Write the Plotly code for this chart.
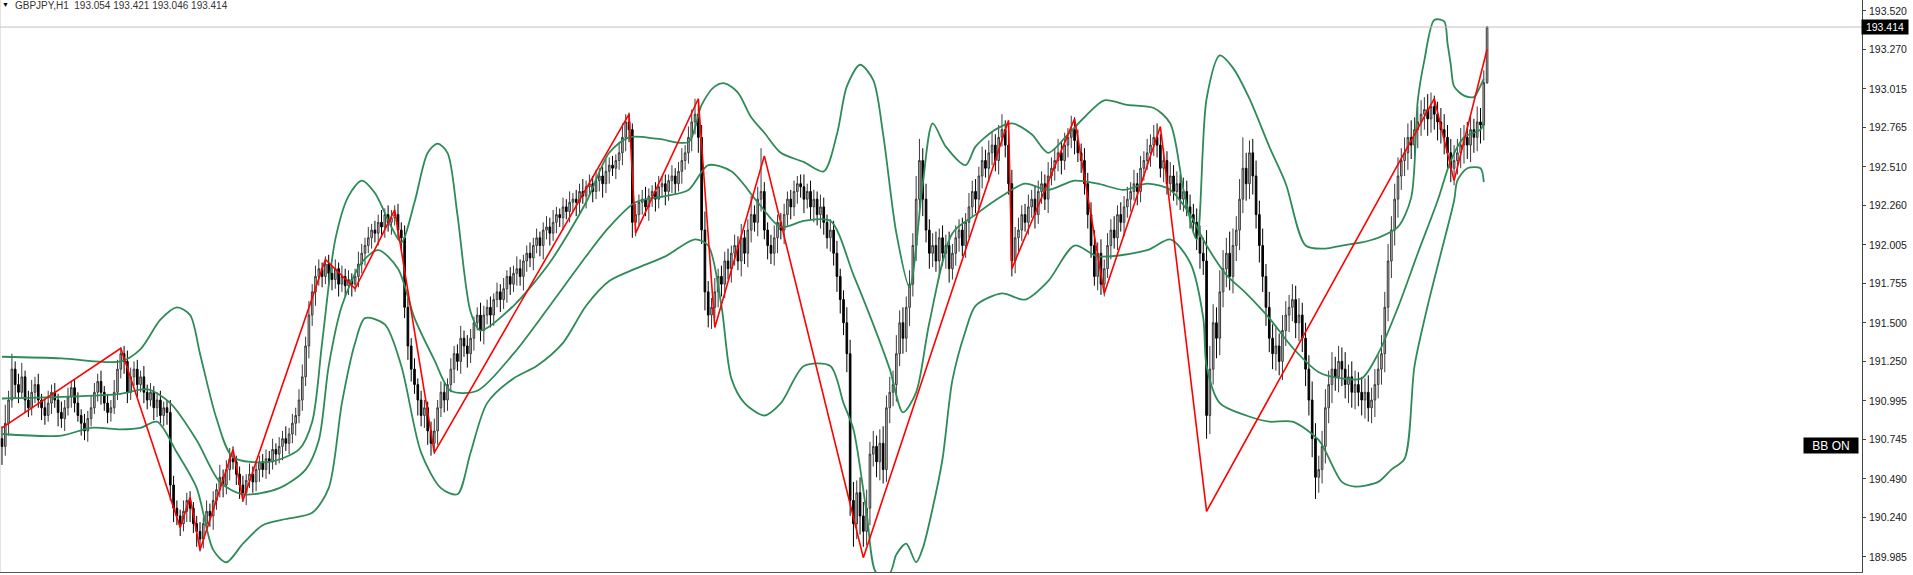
import plotly.graph_objects as go

# ---------------- data ----------------
first_open = 190.75
closes = [
 190.70,190.85,191.00,191.20,191.10,191.05,191.15,191.00,190.95,191.05,
 191.10,191.00,190.95,190.90,190.98,191.05,191.00,190.92,190.88,190.95,
 191.02,191.08,190.98,190.90,190.85,190.80,190.88,190.95,191.05,191.12,
 191.05,190.98,190.92,190.95,191.05,191.20,191.30,
 191.25,191.05,191.15,191.20,191.10,191.15,191.05,191.00,191.05,190.95,191.00,190.90,190.95,190.92,
 190.45,
 190.30,190.25,190.20,190.28,190.35,190.30,190.20,190.15,
 190.10,190.20,190.28,190.25,190.35,190.42,190.50,190.45,190.55,190.62,
 190.60,190.52,190.45,190.40,190.48,190.52,190.47,190.55,190.60,190.55,
 190.62,190.60,190.68,190.65,190.70,190.75,190.72,190.78,190.85,190.90,
 191.00,191.15,191.35,191.55,191.70,191.80,191.85,191.80,191.88,191.82,
 191.78,191.85,191.75,191.80,191.74,191.78,191.75,191.80,191.88,191.95,
 192.00,192.05,192.10,192.08,192.15,192.12,192.20,192.15,192.18,192.20,
 192.10,192.05,191.60,191.35,191.20,191.10,191.00,190.90,190.95,190.80,
 190.72,190.80,190.95,191.05,191.00,191.10,191.20,191.30,191.25,191.40,
 191.35,191.30,191.40,191.50,191.55,191.45,191.55,191.60,191.55,191.65,
 191.70,191.65,191.72,191.80,191.75,191.82,191.85,191.80,191.90,191.95,
 191.92,192.00,192.05,192.00,192.10,192.12,192.08,192.15,192.20,192.18,
 192.25,192.22,192.28,192.30,192.28,192.35,192.32,192.38,192.40,192.35,
 192.42,192.45,192.40,192.48,192.52,192.50,192.55,192.60,192.70,192.80,
 192.75,192.15,192.20,192.28,192.30,192.25,192.32,192.35,192.30,192.38,
 192.40,192.35,192.42,192.45,192.40,192.48,192.55,192.60,192.70,192.80,
 192.85,192.70,192.10,191.70,191.55,191.60,191.70,191.80,191.75,191.90,
 191.85,191.95,192.00,191.90,192.05,191.95,192.10,192.20,192.15,192.30,
 192.35,192.10,192.00,191.95,192.05,192.15,192.10,192.20,192.30,192.25,
 192.35,192.40,192.38,192.30,192.35,192.25,192.30,192.20,192.25,192.15,
 192.05,192.10,191.95,191.80,191.65,191.50,191.30,190.35,190.20,190.40,
 190.25,190.15,190.30,190.65,190.70,190.60,190.72,190.55,190.95,191.05,
 191.10,191.30,191.50,191.40,191.60,191.75,192.00,192.30,192.55,192.30,
 192.10,191.95,192.00,191.90,192.05,191.95,192.00,191.85,191.95,192.05,
 192.10,192.00,192.15,192.25,192.35,192.30,192.45,192.55,192.50,192.60,
 192.65,192.55,192.70,192.75,192.65,192.40,191.90,192.05,192.10,192.20,
 192.15,192.25,192.30,192.20,192.35,192.40,192.30,192.45,192.50,192.55,
 192.60,192.55,192.65,192.70,192.75,192.68,192.60,192.55,192.40,192.20,
 192.00,191.80,191.95,191.75,191.85,192.00,192.10,192.05,192.20,192.15,
 192.25,192.30,192.35,192.40,192.35,192.50,192.55,192.60,192.65,192.70,
 192.65,192.50,192.55,192.40,192.45,192.35,192.40,192.30,192.35,192.25,
 192.20,192.15,192.05,191.95,191.90,190.90,191.20,191.50,191.40,191.70,
 191.85,191.95,191.80,192.00,192.10,192.30,192.50,192.40,192.60,192.45,
 192.20,192.00,191.80,191.60,191.40,191.30,191.35,191.25,191.45,191.55,
 191.60,191.65,191.50,191.55,191.40,191.20,191.00,190.75,190.50,190.55,
 190.70,190.95,191.10,191.20,191.15,191.25,191.20,191.10,191.15,191.05,
 191.10,191.05,191.00,191.05,190.95,191.00,191.10,191.20,191.30,191.60,
 191.90,192.10,192.30,192.45,192.55,192.60,192.70,192.65,192.75,192.80,
 192.85,192.88,192.82,192.90,192.85,192.80,192.75,192.70,192.60,192.50,
 192.55,192.60,192.65,192.70,192.65,192.75,192.70,192.80,192.78,193.054,193.414,
]
# upper / lower wick lengths in pips (0.01)
up_wick = [
 8,12,6,10,5,7,9,4,6,8, 5,7,4,6,8,5,6,4,7,5, 6,4,5,7,4,6,5,8,6,5, 7,4,6,5,8,6,4,5,7,6,
 5,6,4,7,5,6,4,5,6,4, 5,8,6,5,4,7,5,6,4,5, 6,4,7,5,6,4,8,5,6,7, 8,4,5,6,4,7,5,6,4,5,
 6,5,7,4,6,5,8,4,6,5, 7,8,6,9,5,7,6,4,5,6, 5,6,4,7,5,6,4,5,8,6, 5,7,4,6,5,8,4,6,5,6,
 7,5,8,6,5,7,4,6,5,4, 6,8,5,7,6,4,7,5,6,8, 5,7,6,4,5,8,6,5,7,4, 6,5,7,4,6,5,8,6,4,5,
 7,5,6,4,5,7,6,8,5,4, 6,5,7,4,6,5,8,4,6,5, 7,5,6,8,5,6,4,7,9,5, 6,4,7,5,6,8,5,4,6,7,
 5,6,4,7,5,6,8,5,7,8, 10,6,8,12,7,6,9,5,7,6, 8,5,7,6,9,5,7,12,6,8, 28,6,5,7,8,5,6,7,5,6,
 7,5,6,8,5,7,6,5,8,6, 5,7,6,8,5,6,10,9,12,8, 10,9,12,8,10,7,9,11,8,10, 9,12,8,10,7,9,8,15,14,8,
 10,7,8,9,6,8,7,9,6,8, 7,8,6,9,7,8,6,9,7,8, 9,7,8,10,6,8,9,7,8,6, 7,8,6,9,7,8,6,9,7,8,
 9,7,8,6,9,8,7,6,8,7, 8,10,7,9,6,8,7,9,6,8, 7,8,6,9,7,8,6,9,7,8, 9,7,8,6,9,7,8,6,9,7,
 8,7,9,8,10,20,15,12,10,14, 12,10,14,11,9,13,20,10,8,9, 10,9,11,8,10,9,12,8,10,9, 8,10,9,11,8,10,9,12,10,9,
 10,12,9,11,8,10,9,11,8,10, 9,8,10,9,11,8,10,9,12,10, 11,9,10,12,8,10,9,11,8,10, 9,8,10,9,7,8,9,10,8,9,
 10,9,11,8,10,9,7,10,9,8, 0.7,
]
low_wick = [
 12,6,8,5,9,7,4,8,6,5, 7,5,8,6,4,7,5,9,6,8, 5,7,6,4,8,6,7,5,4,6, 8,5,7,6,4,5,6,8,7,5,
 6,8,5,7,6,4,8,6,5,7, 8,10,9,6,8,5,7,9,6,10, 8,6,5,7,9,6,5,8,6,7, 5,7,9,6,8,5,7,6,8,5,
 6,8,5,7,6,9,5,7,6,8, 5,7,6,8,7,9,6,7,5,8, 7,6,8,5,7,6,8,5,7,6, 8,5,7,6,8,5,7,6,8,5,
 6,8,7,9,8,6,10,7,8,9, 8,7,9,6,8,7,5,9,6,8, 7,9,6,8,5,7,9,6,8,7, 5,8,6,9,7,5,8,6,9,7,
 6,8,5,7,9,6,8,5,7,6, 8,5,7,6,9,7,5,8,6,7, 5,7,9,6,8,5,7,6,8,9, 8,10,9,7,8,6,9,7,8,6,
 7,9,6,8,7,5,8,6,7,9, 8,10,9,12,8,9,7,10,8,9, 7,9,8,6,10,7,9,8,6,9, 8,6,9,7,8,10,6,9,7,8,
 6,8,7,9,6,8,10,7,9,8, 7,9,8,10,9,8,12,10,15,10, 12,10,9,11,8,10,12,9,8,10, 9,11,8,10,9,12,8,10,9,11,
 8,10,9,7,11,8,10,9,7,8, 9,7,8,10,6,9,7,8,6,9, 8,7,9,6,8,7,10,8,9,7, 6,8,7,9,6,8,7,9,6,8,
 7,9,6,8,7,9,6,8,7,9, 8,6,9,7,8,6,9,7,8,6, 9,7,8,6,9,7,8,6,9,7, 8,6,9,7,8,6,9,7,8,6,
 9,7,8,10,9,15,12,10,13,11, 10,12,9,11,10,13,9,11,10,12, 9,11,10,12,9,10,11,9,12,10, 11,9,10,12,9,11,10,12,14,10,
 9,11,10,12,9,10,11,9,12,10, 11,9,10,12,9,10,11,9,10,12, 9,11,10,12,9,10,11,9,10,12, 9,10,11,9,10,12,9,11,10,9,
 11,9,10,12,9,11,10,9,12,10, 0.8,
]

# Bollinger bands sampled along the chart: (bar index, price)
upper_x = [0,18,36,42,48,53,57,60,65,70,81,90,94,97,101,105,109,113,118,121,125,129,132,135,138,142,145,155,166,177,184,190,199,208,212,216,219,223,227,231,236,243,249,253,256,260,264,267,271,275,279,282,286,292,295,301,306,312,317,323,328,334,341,349,354,358,362,365,369,373,378,384,389,395,401,406,412,417,423,427,429,431,434,437,438,439,440,443,446,447,449]
upper_y = [191.28,191.27,191.25,191.33,191.52,191.60,191.55,191.30,190.88,190.63,190.60,190.68,190.86,191.37,192.04,192.32,192.42,192.34,192.12,192.02,192.28,192.60,192.66,192.60,192.20,191.57,191.45,191.61,191.89,192.28,192.60,192.70,192.69,192.67,192.91,193.03,193.05,192.99,192.83,192.73,192.60,192.54,192.48,192.72,193.03,193.17,193.07,192.72,192.08,191.73,192.40,192.79,192.64,192.52,192.64,192.75,192.79,192.72,192.60,192.72,192.83,192.94,192.91,192.89,192.79,192.36,192.04,192.95,193.23,193.15,192.95,192.64,192.40,192.00,191.98,192.00,192.02,192.05,192.12,192.31,192.94,193.20,193.46,193.45,193.31,193.17,193.03,192.97,192.96,192.99,193.08]
middle_x = [0,18,36,44,51,59,66,73,84,92,96,99,103,109,114,120,125,131,136,144,155,166,177,184,192,201,208,214,221,229,236,243,251,258,264,269,273,277,281,288,295,303,310,317,325,332,340,347,354,360,365,371,377,384,391,399,406,412,417,423,429,435,439,443,448,449]
middle_y = [191.01,191.02,191.04,191.07,190.98,190.74,190.47,190.39,190.43,190.55,190.74,191.22,191.61,191.89,191.97,191.85,191.53,191.26,191.06,191.06,191.30,191.61,191.93,192.12,192.28,192.32,192.36,192.52,192.48,192.28,192.12,192.16,192.16,191.81,191.49,191.20,190.92,191.05,191.50,192.08,192.20,192.32,192.40,192.36,192.42,192.40,192.36,192.40,192.36,192.20,192.00,191.81,191.69,191.53,191.34,191.18,191.14,191.14,191.30,191.60,191.95,192.29,192.55,192.70,192.75,192.80]
lower_x = [0,18,27,36,42,47,53,59,64,68,73,79,86,94,99,103,107,110,116,121,127,133,138,142,147,155,162,170,177,184,192,201,210,214,218,221,225,231,236,243,251,255,258,262,265,269,271,274,277,279,282,285,288,292,295,303,310,317,325,332,347,354,360,364,365,369,377,384,391,399,406,410,417,421,425,428,432,436,440,441,444,448,449]
lower_y = [190.78,190.77,190.82,190.81,190.82,190.86,190.66,190.43,190.03,189.95,190.07,190.19,190.23,190.27,190.43,190.98,191.37,191.53,191.49,191.22,190.66,190.43,190.39,190.66,190.98,191.14,191.22,191.37,191.61,191.77,191.85,191.93,192.04,192.00,191.61,191.14,190.98,190.90,190.98,191.22,191.22,190.98,190.81,190.27,189.88,189.88,190.00,190.07,189.95,190.04,190.30,190.62,191.13,191.45,191.61,191.69,191.65,191.77,192.00,191.93,191.97,192.04,191.89,191.53,191.22,190.98,190.90,190.86,190.86,190.74,190.47,190.44,190.47,190.55,190.62,191.22,191.61,191.95,192.29,192.42,192.50,192.50,192.41]

# ZigZag vertices: (bar index, price)
zz_x = [0,36,54,57,60,70,73,98,107,119,131,190,192,211,216,231,261,305,306,325,334,351,365,434,440,450]
zz_y = [190.82,191.335,190.175,190.37,190.03,190.68,190.35,191.91,191.72,192.23,190.66,192.85,192.08,192.95,191.47,192.58,189.98,192.81,191.85,192.82,191.69,192.77,190.28,192.95,192.42,193.27]

bid_price = 193.414
title_text = "GBPJPY,H1  193.054 193.421 193.046 193.414"
tick_vals = [193.520,193.270,193.015,192.765,192.510,192.260,192.005,191.755,191.500,191.250,190.995,190.745,190.490,190.240,189.985]
y_range = [189.887, 193.589]
x_range = [-0.6, 563.6]

# ---------------- build ----------------
n = len(closes)
bars = list(range(n))
opens = [first_open] + closes[:-1]
highs = [max(o, c) + w * 0.01 for o, c, w in zip(opens, closes, up_wick)]
lows = [min(o, c) - w * 0.01 for o, c, w in zip(opens, closes, low_wick)]

fig = go.Figure()
band_color = "#2e8b57"
for xs, ys in ((upper_x, upper_y), (middle_x, middle_y), (lower_x, lower_y)):
    fig.add_trace(go.Scatter(x=xs, y=ys, mode="lines",
                             line=dict(color=band_color, width=1.8, shape="spline", smoothing=0.8),
                             hoverinfo="skip", showlegend=False))

fig.add_trace(go.Candlestick(
    x=bars, open=opens, high=highs, low=lows, close=closes,
    increasing=dict(line=dict(color="#3a3a3a", width=1), fillcolor="#c4c4c4"),
    decreasing=dict(line=dict(color="#000000", width=1), fillcolor="#000000"),
    whiskerwidth=0, showlegend=False))

fig.add_trace(go.Scatter(x=zz_x, y=zz_y, mode="lines",
                         line=dict(color="#ff0000", width=1.6),
                         hoverinfo="skip", showlegend=False))

font_fam = "Liberation Sans, Arial, sans-serif"
fig.update_layout(
    width=1913, height=575,
    margin=dict(l=0, r=51, t=0, b=3),
    paper_bgcolor="#ffffff", plot_bgcolor="#ffffff",
    showlegend=False,
    xaxis=dict(range=x_range, showticklabels=False, ticks="", showgrid=False, zeroline=False,
               showline=True, linecolor="#555555", linewidth=1, rangeslider=dict(visible=False),
               fixedrange=True),
    yaxis=dict(range=y_range, side="right", tickvals=tick_vals, showticklabels=False,
               ticks="outside", ticklen=3, tickcolor="#444444", tickwidth=1,
               showgrid=False, zeroline=False, showline=True, linecolor="#444444", linewidth=1),
)

# price scale labels (drawn next to the ticks)
for v in tick_vals:
    fig.add_annotation(xref="paper", yref="y", x=1, y=v, xanchor="left", yanchor="middle",
                       text=f"{v:.3f}", showarrow=False, borderpad=0,
                       font=dict(family=font_fam, size=10.5, color="#1a1a1a"), xshift=6)

# bid line
fig.add_shape(type="line", xref="paper", yref="y", x0=0, x1=1, y0=bid_price, y1=bid_price,
              line=dict(color="#c0c0c0", width=1))
# left border
fig.add_shape(type="line", xref="paper", yref="paper", x0=0, x1=0, y0=0, y1=1,
              line=dict(color="#c8c8c8", width=1))

# bid price label on axis
fig.add_annotation(xref="paper", yref="y", x=1, y=bid_price, xanchor="left", yanchor="middle",
                   text=f"{bid_price:.3f}", showarrow=False, bgcolor="#000000", width=44, height=12,
                   font=dict(family=font_fam, size=10.5, color="#ffffff"),
                   borderpad=1, xshift=-1)
# BB ON label
fig.add_annotation(xref="paper", yref="y", x=1, y=190.706, xanchor="right", yanchor="middle",
                   text="BB ON", showarrow=False, bgcolor="#000000", width=52, height=13,
                   font=dict(family=font_fam, size=12, color="#ffffff"),
                   borderpad=1, xshift=-3)
# title
fig.add_annotation(xref="paper", yref="paper", x=0, y=1, xanchor="left", yanchor="top",
                   text="\u25bc", showarrow=False, font=dict(family=font_fam, size=7, color="#000000"),
                   borderpad=0, xshift=1, yshift=0)
fig.add_annotation(xref="paper", yref="paper", x=0, y=1, xanchor="left", yanchor="top",
                   text=title_text, showarrow=False, font=dict(family=font_fam, size=10, color="#333333"),
                   borderpad=0, xshift=14, yshift=1)

fig.write_html("out.html", config={"displayModeBar": False, "staticPlot": True},
               post_script="document.body.style.margin='0px';document.body.style.overflow='hidden';")
